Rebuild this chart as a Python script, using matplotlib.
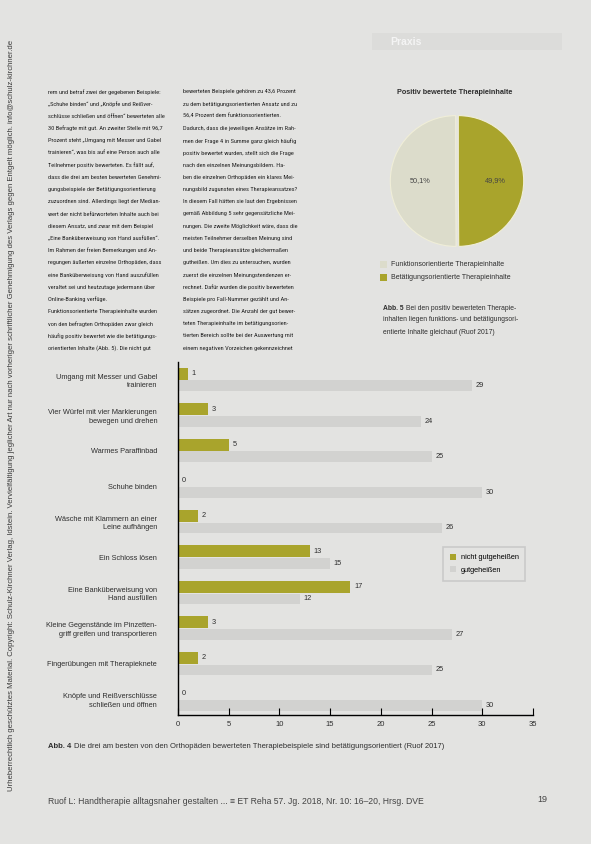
import matplotlib
matplotlib.use("Agg")
import matplotlib.pyplot as plt
from matplotlib.patches import Rectangle
from matplotlib import font_manager

# ---------------- data ----------------
categories = [
    "Umgang mit Messer und Gabel\ntrainieren",
    "Vier Würfel mit vier Markierungen\nbewegen und drehen",
    "Warmes Paraffinbad",
    "Schuhe binden",
    "Wäsche mit Klammern an einer\nLeine aufhängen",
    "Ein Schloss lösen",
    "Eine Banküberweisung von\nHand ausfüllen",
    "Kleine Gegenstände im Pinzetten-\ngriff greifen und transportieren",
    "Fingerübungen mit Therapieknete",
    "Knöpfe und Reißverschlüsse\nschließen und öffnen",
]
nicht_gut = [1, 3, 5, 0, 2, 13, 17, 3, 2, 0]
gut = [29, 24, 25, 30, 26, 15, 12, 27, 25, 30]
series_names = ["nicht gutgeheißen", "gutgeheißen"]
x_ticks = [0, 5, 10, 15, 20, 25, 30, 35]

pie_labels = ["Funktionsorientierte Therapieinhalte", "Betätigungsorientierte Therapieinhalte"]
pie_values = [50.1, 49.9]
pie_title = "Positiv bewertete Therapieinhalte"

# ---------------- style ----------------
W, H = 591, 844
BG = "#e3e3e1"
OLIVE = "#a9a42c"
LIGHT = "#d2d2d0"
PIE_LIGHT = "#dcdccb"
TXT = "#2e2e2e"

avail = {f.name for f in font_manager.fontManager.ttflist}
narrow = None
for cand in ["Liberation Sans Narrow", "DejaVu Sans Condensed", "Roboto Condensed"]:
    if cand in avail:
        narrow = cand
        break
FONT = ["Liberation Sans", "DejaVu Sans"]
BODY_FONT = ([narrow] if narrow else []) + FONT
plt.rcParams["font.family"] = FONT

fig = plt.figure(figsize=(W / 100, H / 100), dpi=100, facecolor=BG)
renderer = fig.canvas.get_renderer()


def fx(x):
    return x / W


def fy(y):
    return 1 - y / H


def ftext(x, y, s, **kw):
    kw.setdefault("color", TXT)
    kw.setdefault("fontsize", 5.3)
    kw.setdefault("va", "center")
    return fig.text(fx(x), fy(y), s, **kw)


def width_px(t):
    return t.get_window_extent(renderer).width


# ---------------- header / margins ----------------
fig.patches.append(Rectangle((fx(372), fy(50)), fx(190), 17 / H, transform=fig.transFigure,
                             facecolor="#dcdcda", edgecolor="none"))
ftext(390, 42, "Praxis", fontsize=7.5, color="#f4f4f4", fontweight="bold")

ftext(12, 415,
      "Urheberrechtlich geschütztes Material. Copyright: Schulz-Kirchner Verlag, Idstein. "
      "Vervielfältigung jeglicher Art nur nach vorheriger schriftlicher Genehmigung des Verlags "
      "gegen Entgelt möglich. info@schulz-kirchner.de",
      rotation=90, ha="center", fontsize=5.6, color="#3a3a3a")

# ---------------- body text ----------------
col1 = [
    "rem und betraf zwei der gegebenen Beispiele:",
    "„Schuhe binden“ und „Knöpfe und Reißver-",
    "schlüsse schließen und öffnen“ bewerteten alle",
    "30 Befragte mit gut. An zweiter Stelle mit 96,7",
    "Prozent steht „Umgang mit Messer und Gabel",
    "trainieren“, was bis auf eine Person auch alle",
    "Teilnehmer positiv bewerteten. Es fällt auf,",
    "dass die drei am besten bewerteten Genehmi-",
    "gungsbeispiele der Betätigungsorientierung",
    "zuzuordnen sind. Allerdings liegt der Median-",
    "wert der nicht befürworteten Inhalte auch bei",
    "diesem Ansatz, und zwar mit dem Beispiel",
    "„Eine Banküberweisung von Hand ausfüllen“.",
    "Im Rahmen der freien Bemerkungen und An-",
    "regungen äußerten einzelne Orthopäden, dass",
    "eine Banküberweisung von Hand auszufüllen",
    "veraltet sei und heutzutage jedermann über",
    "Online-Banking verfüge.",
    "Funktionsorientierte Therapieinhalte wurden",
    "von den befragten Orthopäden zwar gleich",
    "häufig positiv bewertet wie die betätigungs-",
    "orientierten Inhalte (Abb. 5). Die nicht gut",
]
col2 = [
    "bewerteten Beispiele gehören zu 43,6 Prozent",
    "zu dem betätigungsorientierten Ansatz und zu",
    "56,4 Prozent dem funktionsorientierten.",
    "Dadurch, dass die jeweiligen Ansätze im Rah-",
    "men der Frage 4 in Summe ganz gleich häufig",
    "positiv bewertet wurden, stellt sich die Frage",
    "nach den einzelnen Meinungsbildern. Ha-",
    "ben die einzelnen Orthopäden ein klares Mei-",
    "nungsbild zugunsten eines Therapieansatzes?",
    "In diesem Fall hätten sie laut den Ergebnissen",
    "gemäß Abbildung 5 sehr gegensätzliche Mei-",
    "nungen. Die zweite Möglichkeit wäre, dass die",
    "meisten Teilnehmer derselben Meinung sind",
    "und beide Therapieansätze gleichermaßen",
    "gutheißen. Um dies zu untersuchen, wurden",
    "zuerst die einzelnen Meinungstendenzen er-",
    "rechnet. Dafür wurden die positiv bewerteten",
    "Beispiele pro Fall-Nummer gezählt und An-",
    "sätzen zugeordnet. Die Anzahl der gut bewer-",
    "teten Therapieinhalte im betätigungsorien-",
    "tierten Bereich sollte bei der Auswertung mit",
    "einem negativen Vorzeichen gekennzeichnet",
]
COL_W = 118
body_texts = []
for x_start, lines in [(48, col1), (183, col2)]:
    for i, line in enumerate(lines):
        t = ftext(x_start, 92 + i * 12.2, line, fontsize=6.0, family=BODY_FONT, color="#222222")
        body_texts.append(t)
# shrink body size so that the widest line fits the column width
maxw = max(width_px(t) for t in body_texts)
body_size = 6.0 * min(1.0, COL_W / maxw)
for t in body_texts:
    t.set_fontsize(body_size)

# ---------------- pie chart ----------------
ftext(455, 93, pie_title, ha="center", fontsize=5.2, fontweight="bold")
r = 68
axp = fig.add_axes([fx(457 - r), fy(181 + r), 2 * r / W, 2 * r / H])
axp.pie(pie_values, colors=[PIE_LIGHT, OLIVE], startangle=90, counterclock=True,
        explode=[0.0, 0.04], wedgeprops=dict(edgecolor="#f0eed8", linewidth=0.8))
axp.set_aspect("equal")
axp.set_xlim(-1.02, 1.06)
axp.set_ylim(-1.04, 1.04)
axp.axis("off")
axp.text(-0.55, 0.0, f"{pie_values[0]:.1f}%".replace(".", ","), ha="center", va="center",
         fontsize=5.3, color="#444444")
axp.text(0.6, 0.0, f"{pie_values[1]:.1f}%".replace(".", ","), ha="center", va="center",
         fontsize=5.3, color="#444444")

for i, (lab, col) in enumerate(zip(pie_labels, [PIE_LIGHT, OLIVE])):
    y = 264 + i * 13.5
    fig.patches.append(Rectangle((fx(380), fy(y + 3.5)), 7 / W, 7 / H, transform=fig.transFigure,
                                 facecolor=col, edgecolor="none"))
    ftext(391, y, lab, fontsize=5.0)

cap5 = ["Bei den positiv bewerteten Therapie-",
        "inhalten liegen funktions- und betätigungsori-",
        "entierte Inhalte gleichauf (Ruof 2017)"]
tb = ftext(383, 308, "Abb. 5", fontsize=5.4, fontweight="bold")
t0 = ftext(383 + width_px(tb) + 2.5, 308, cap5[0], fontsize=5.4)
t1 = ftext(383, 320, cap5[1], fontsize=5.4)
t2 = ftext(383, 332, cap5[2], fontsize=5.4)
mw = max(width_px(t1), width_px(t2), width_px(t0) + width_px(tb) + 2.5)
if mw > 136:
    s = 5.4 * 136 / mw
    for t in (tb, t0, t1, t2):
        t.set_fontsize(s)
    t0.set_x(fx(383 + width_px(tb) + 2.5))

# ---------------- bar chart ----------------
x0, x1 = 178, 533
y_top, y_bot = 362, 715
ax = fig.add_axes([fx(x0), fy(y_bot), (x1 - x0) / W, (y_bot - y_top) / H])
ax.set_facecolor(BG)
n = len(categories)
rows = list(range(n))
ax.barh([r_ - 0.17 for r_ in rows], nicht_gut, height=0.34, color=OLIVE, label=series_names[0])
ax.barh([r_ + 0.17 for r_ in rows], gut, height=0.3, color=LIGHT, label=series_names[1])
for r_, v in zip(rows, nicht_gut):
    ax.text(v + 0.35, r_ - 0.17, str(v), va="center", ha="left", fontsize=5.3, color=TXT)
for r_, v in zip(rows, gut):
    ax.text(v + 0.35, r_ + 0.17, str(v), va="center", ha="left", fontsize=5.3, color=TXT)

ax.set_xlim(0, 35)
ax.set_ylim(9.44, -0.5)
ax.set_xticks(x_ticks)
ax.set_xticklabels([str(t) for t in x_ticks], fontsize=5.5, color=TXT)
ax.tick_params(axis="x", direction="in", length=5, width=0.8, pad=4)
ax.set_yticks(rows)
ax.set_yticklabels(categories, fontsize=5.3, color=TXT, linespacing=1.25)
ax.tick_params(axis="y", length=0, pad=15)
for s_ in ["top", "right"]:
    ax.spines[s_].set_visible(False)
ax.spines["left"].set_linewidth(1.0)
ax.spines["bottom"].set_linewidth(1.0)

leg = ax.legend(loc="upper left", bbox_to_anchor=((443 - x0) / (x1 - x0), 1 - (547 - y_top) / (y_bot - y_top)),
                fontsize=5.3, frameon=True, fancybox=False, edgecolor="#c4c4c4", facecolor=BG,
                handlelength=0.9, handleheight=0.9, borderpad=0.9, labelspacing=0.7,
                handletextpad=0.6, borderaxespad=0)
leg.get_frame().set_linewidth(1.2)

# captions / footer
ta = ftext(48, 746, "Abb. 4", fontsize=5.5, fontweight="bold")
ftext(48 + width_px(ta) + 3, 746, "Die drei am besten von den Orthopäden bewerteten "
      "Therapiebeispiele sind betätigungsorientiert (Ruof 2017)", fontsize=5.5)
ftext(48, 801, "Ruof L: Handtherapie alltagsnaher gestalten ... ≡ ET Reha 57. Jg. 2018, "
      "Nr. 10: 16–20, Hrsg. DVE", fontsize=6.2, color="#444444")
ftext(537, 799, "19", fontsize=6.5, color="#444444")

fig.savefig("out.png", dpi=100, facecolor=BG)
